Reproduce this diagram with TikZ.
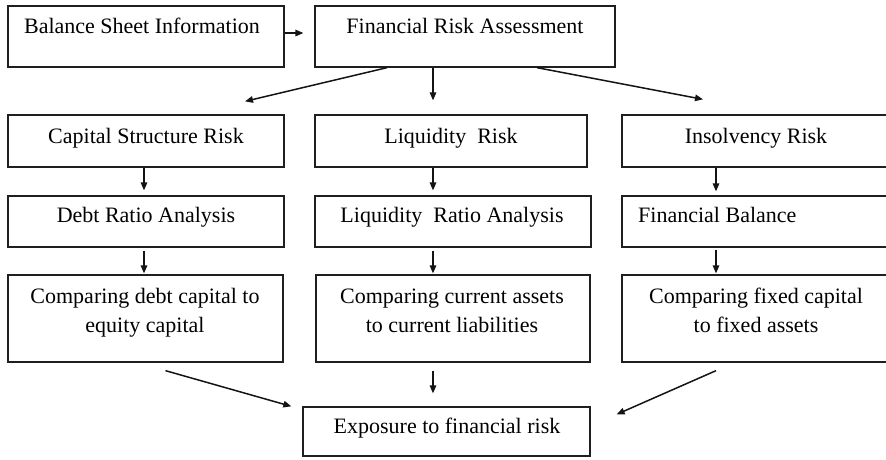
\documentclass[tikz,border=0pt]{standalone}
\usepackage{fontspec}
\setmainfont{Liberation Serif}
\usetikzlibrary{arrows.meta,calc,fit}
\begin{document}
\begin{tikzpicture}[x=1pt,y=-1pt,
  box/.style={draw=black!88, line width=1.3pt, inner sep=0pt, rectangle},
  txt/.style={font=\fontsize{22}{29}\selectfont, inner sep=0pt, anchor=base, align=center},
  arr/.style={-{Triangle[length=8pt,width=6.5pt]}, line width=1.5pt, draw=black!92}]
\useasboundingbox (0,0) rectangle (886,459);

% boxes
\node[box, fit={(8,6) (284,67)}]    (bsi) {};
\node[box, fit={(315,6) (615,67)}]  (fra) {};
\node[box, fit={(8,115) (284,167)}]   (csr) {};
\node[box, fit={(315,115) (587,167)}] (lr)  {};
\node[box, fit={(622,115) (890,167)}] (ir)  {};
\node[box, fit={(8,196) (284,247)}]   (dra) {};
\node[box, fit={(315,196) (591,247)}] (lra) {};
\node[box, fit={(622,196) (890,247)}] (fb)  {};
\node[box, fit={(8,275) (283,362)}]   (cmp1) {};
\node[box, fit={(316,275) (590,362)}] (cmp2) {};
\node[box, fit={(622,275) (890,362)}] (cmp3) {};
\node[box, fit={(303,407) (590,456)}] (exp) {};

% labels (two-line labels are anchored at the baseline of their last line)
\node[txt] (tbsi) at (142,33) {Balance Sheet Information};
\node[txt] (tfra) at (465,33) {Financial Risk Assessment};
\node[txt] (tcsr) at (146,143) {Capital Structure Risk};
\node[txt] (tlr)  at (451,143) {Liquidity~ Risk};
\node[txt] (tir)  at (756,143) {Insolvency Risk};
\node[txt] (tdra) at (146,222) {Debt Ratio Analysis};
\node[txt] (tlra) at (452,222) {Liquidity~ Ratio Analysis};
\node[txt, anchor=base west] (tfb) at (638,222) {Financial Balance};
\node[txt] (tc1) at (145,332) {Comparing debt capital to\\equity capital};
\node[txt] (tc2) at (452,332) {Comparing current assets\\to current liabilities};
\node[txt] (tc3) at (756,332) {Comparing fixed capital\\to fixed assets};
\node[txt] (texp) at (447,433) {Exposure to financial risk};

% connectors
\draw[arr] ($(bsi.east)+(0,-3.5)$) -- ($(fra.west)+(-11,-3.5)$);
\draw[arr] ($(fra.south)+(-78,0)$) -- ($(csr.north)+(99,-13)$);
\draw[arr] ($(fra.south)+(-32,0)$) -- ($(lr.north)+(-18,-14)$);
\draw[arr] ($(fra.south)+(72,0)$)  -- ($(ir.north)+(-53,-15)$);

\draw[arr] ($(csr.south)+(-2,0)$)  -- ($(dra.north)+(-2,-5)$);
\draw[arr] ($(lr.south)+(-18,0)$)  -- ($(lra.north)+(-20,-5)$);
\draw[arr] ($(ir.south)+(-40,0)$)  -- ($(fb.north)+(-40,-4)$);

\draw[arr] ($(dra.south)+(-2,3)$)  -- ($(cmp1.north)+(-1.5,-1)$);
\draw[arr] ($(lra.south)+(-20,3)$) -- ($(cmp2.north)+(-20,-1)$);
\draw[arr] ($(fb.south)+(-40,2)$)  -- ($(cmp3.north)+(-40,-1)$);

\draw[arr] ($(cmp1.south)+(20,8)$)  -- ($(exp.north west)+(-11,0)$);
\draw[arr] ($(cmp2.south)+(-20,8)$) -- ($(exp.north)+(-13.5,-13)$);
\draw[arr] ($(cmp3.south)+(-40,8)$) -- ($(exp.north east)+(26,8)$);
\end{tikzpicture}
\end{document}
